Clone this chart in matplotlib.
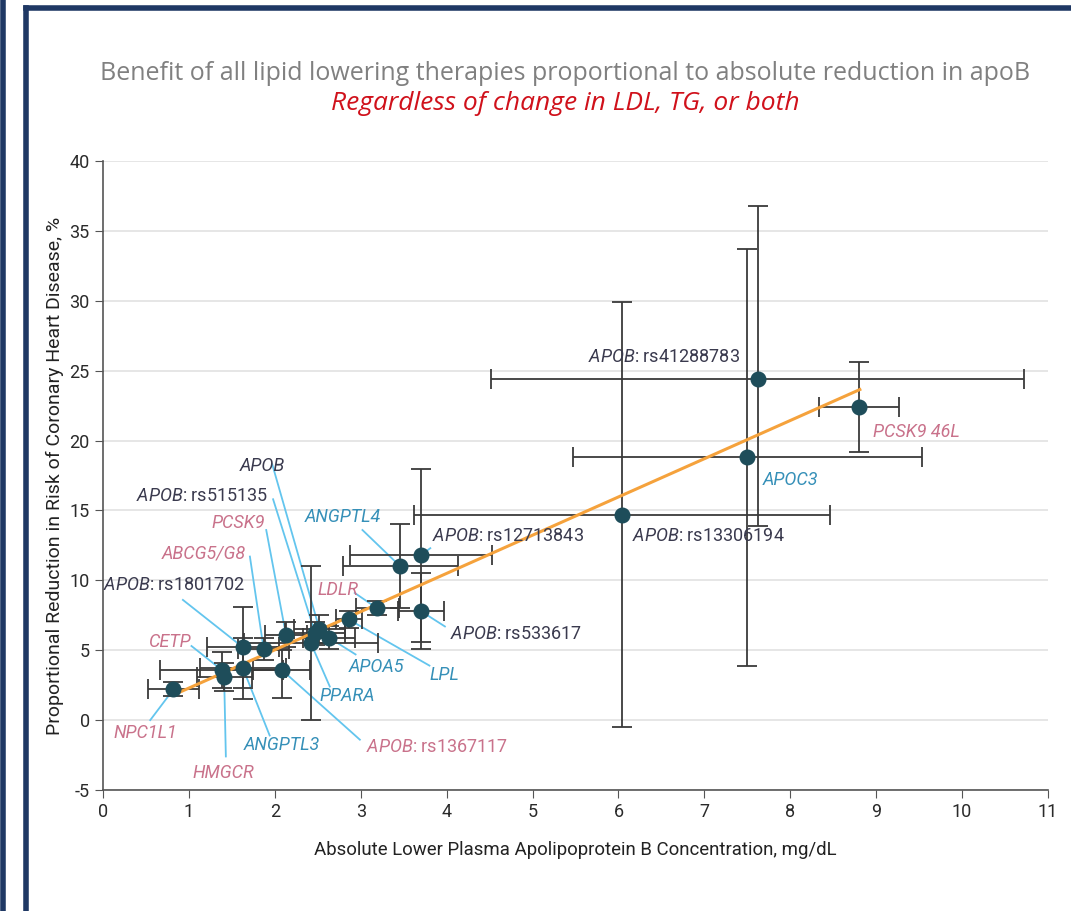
import numpy as np
import matplotlib
matplotlib.use("Agg")
import matplotlib.pyplot as plt
from matplotlib.lines import Line2D

# data: x = apoB reduction (mg/dL), y = risk reduction (%)
names = ["NPC1L1", "CETP", "HMGCR", "APOB: rs1801702", "ANGPTL3", "ABCG5/G8",
         "PCSK9", "APOB: rs1367117", "PPARA", "APOB", "APOB: rs515135", "APOA5",
         "LPL", "LDLR", "ANGPTL4", "APOB: rs12713843", "APOB: rs533617",
         "APOB: rs13306194", "APOC3", "APOB: rs41288783", "PCSK9 46L"]
x = [0.82, 1.38, 1.41, 1.63, 1.63, 1.87, 2.13, 2.08, 2.42, 2.52, 2.47, 2.63,
     2.86, 3.19, 3.46, 3.70, 3.70, 6.04, 7.50, 7.62, 8.80]
y = [2.2, 3.6, 3.1, 5.2, 3.7, 5.1, 6.1, 3.6, 5.5, 6.5, 6.2, 5.9,
     7.2, 8.0, 11.0, 11.8, 7.8, 14.7, 18.8, 24.4, 22.4]
xerr = [0.30, 0.72, 0.32, 0.42, 0.50, 0.30, 0.25, 0.33, 0.78, 0.30, 0.35, 0.30,
        0.15, 0.25, 0.67, 0.83, 0.27, 2.42, 2.03, 3.10, 0.46]
yerr_lo = [0.5, 1.3, 1.0, 2.9, 2.2, 0.8, 0.9, 2.0, 5.5, 1.0, 0.8, 0.8,
           0.6, 0.5, 3.0, 6.2, 2.7, 15.2, 14.9, 10.5, 3.2]
yerr_hi = [0.5, 1.3, 1.0, 2.9, 2.2, 0.8, 0.9, 1.4, 5.5, 1.0, 0.8, 0.8,
           0.6, 0.5, 3.0, 6.2, 2.7, 15.2, 14.9, 12.4, 3.2]
# fitted line end points
fit_x = [0.82, 8.81]
fit_y = [1.8, 23.65]

# label colour group: 0 = APOB variants, 1 = pink, 2 = teal
group = [1, 1, 1, 0, 2, 1, 1, 1, 2, 0, 0, 2, 2, 1, 2, 0, 0, 0, 2, 0, 1]

plt.rcParams['font.family'] = ['Roboto', 'DejaVu Sans']
plt.rcParams['mathtext.fontset'] = 'custom'
plt.rcParams['mathtext.it'] = 'Roboto:italic'
plt.rcParams['mathtext.rm'] = 'Roboto'
plt.rcParams['axes.unicode_minus'] = False

fig = plt.figure(figsize=(10.71, 9.11), dpi=100)
ax = fig.add_axes([103/1071, 121/911, 945/1071, 629/911])

ax.errorbar(x, y, xerr=xerr, yerr=[yerr_lo, yerr_hi], fmt='none',
            ecolor='#3a3a3a', elinewidth=1.3, capsize=7, capthick=1.3, zorder=2)
ax.plot(fit_x, fit_y, color='#f5a23c', lw=2.2, zorder=3)
ax.plot(x, y, 'o', color='#1e4d5a', ms=10.5, zorder=4)

ax.set_xlim(0, 11)
ax.set_ylim(-5, 40)
ax.set_xticks(range(0, 12))
ax.set_yticks(range(-5, 41, 5))
ax.yaxis.grid(True, color='#e2e2e2', lw=1.2)
ax.set_axisbelow(True)
for s in ['top', 'right']:
    ax.spines[s].set_visible(False)
for s in ['left', 'bottom']:
    ax.spines[s].set_color('#555555')
    ax.spines[s].set_linewidth(1.2)
ax.tick_params(labelsize=13, colors='#555555', length=6)
for t in ax.get_xticklabels() + ax.get_yticklabels():
    t.set_color('#2a2a2a')
ax.set_xlabel("Absolute Lower Plasma Apolipoprotein B Concentration, mg/dL",
              fontsize=13.4, color='#222222', labelpad=14)
ax.set_ylabel("Proportional Reduction in Risk of Coronary Heart Disease, %",
              fontsize=14, color='#222222', labelpad=4)

colors = ['#3a3a4e', '#c9728b', '#3690b8']
leader = '#63c5ee'

# label text position (data), alignment, leader line start (None = no leader)
labels = {
    "NPC1L1": (0.49, -0.9, 'center', (0.55, 0.0)),
    "CETP": (1.02, 5.6, 'right', (1.03, 5.3)),
    "HMGCR": (1.40, -3.8, 'center', (1.43, -2.6)),
    "APOB: rs1801702": (1.66, 9.7, 'right', (0.93, 8.6)),
    "ANGPTL3": (2.08, -1.8, 'center', (1.94, -1.1)),
    "ABCG5/G8": (1.66, 11.9, 'right', (1.71, 11.7)),
    "PCSK9": (1.89, 14.1, 'right', (1.90, 13.6)),
    "APOB: rs1367117": (3.06, -1.9, 'left', (2.99, -1.4)),
    "PPARA": (2.84, 1.7, 'center', (2.64, 2.4)),
    "APOB": (2.12, 18.2, 'right', (1.97, 18.3)),
    "APOB: rs515135": (1.92, 16.0, 'right', (1.98, 15.8)),
    "APOA5": (3.18, 3.8, 'center', (2.94, 4.7)),
    "LPL": (3.97, 3.2, 'center', (3.80, 3.9)),
    "LDLR": (2.74, 9.3, 'center', (2.93, 9.1)),
    "ANGPTL4": (2.79, 14.5, 'center', (3.02, 13.6)),
    "APOB: rs12713843": (3.83, 13.2, 'left', (3.81, 12.3)),
    "APOB: rs533617": (4.04, 6.15, 'left', (3.98, 6.7)),
    "APOB: rs13306194": (6.16, 13.2, 'left', None),
    "APOC3": (7.68, 17.2, 'left', None),
    "APOB: rs41288783": (7.42, 26.0, 'right', None),
    "PCSK9 46L": (8.96, 20.6, 'left', None),
}

for i, n in enumerate(names):
    tx, ty, ha, start = labels[n]
    if n.startswith("APOB: "):
        txt = r'$\mathit{APOB}$: ' + n[6:]
        style = 'normal'
    else:
        txt = n
        style = 'italic'
    ax.text(tx, ty, txt, ha=ha, va='center', fontsize=13, color=colors[group[i]],
            fontstyle=style, zorder=5)
    if start is not None:
        ax.plot([start[0], x[i]], [start[1], y[i]], color=leader, lw=1.3, zorder=1)

fig.text(565/1071, 1 - 73/911,
         "Benefit of all lipid lowering therapies proportional to absolute reduction in apoB",
         ha='center', va='center', fontsize=18, color='#808080', family='Open Sans')
fig.text(565/1071, 1 - 104/911, "Regardless of change in LDL, TG, or both",
         ha='center', va='center', fontsize=19, color='#d0111b', family='Open Sans',
         style='italic')

# slide frame
fig.add_artist(Line2D([26/1071, 26/1071], [0, 1 - 8/911], transform=fig.transFigure,
                      color='#1f3864', lw=4))
fig.add_artist(Line2D([26/1071, 1], [1 - 8/911, 1 - 8/911], transform=fig.transFigure,
                      color='#1f3864', lw=4))
fig.add_artist(Line2D([3/1071, 3/1071], [0, 1], transform=fig.transFigure,
                      color='#1f3864', lw=4))

fig.savefig("out.png", dpi=100)
